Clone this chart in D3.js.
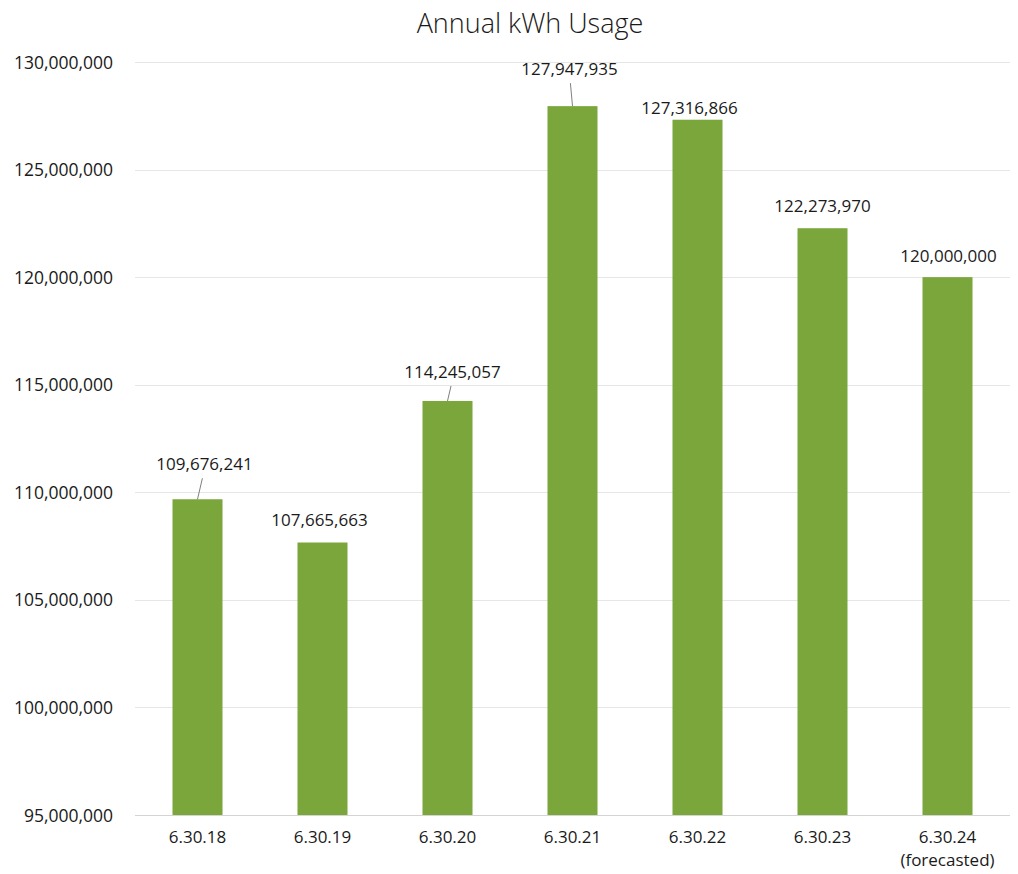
<!DOCTYPE html>
<html lang="en">
<head>
<meta charset="utf-8">
<script src="https://d3js.org/d3.v7.min.js"></script>
<style>
  body { margin: 0; background: #fff; }
  #chart text { font-family: "Open Sans", sans-serif; fill: #1a1a1a; }
</style>
</head>
<body>
<div id="chart"></div>
<script>
// data
var years = ["6.30.18", "6.30.19", "6.30.20", "6.30.21", "6.30.22", "6.30.23", "6.30.24"];
var yearNotes = ["", "", "", "", "", "", "(forecasted)"];
var usage = [109676241, 107665663, 114245057, 127947935, 127316866, 122273970, 120000000];
var yTicks = [95000000, 100000000, 105000000, 110000000, 115000000, 120000000, 125000000, 130000000];

// where each value label sits relative to its bar top (dx, dy of text centre), and whether it has a leader line
var labelShift = [[7, -35, true], [-3, -22, false], [5, -29, true], [-3, -37, true], [-8, -12, false], [0, -22, false], [1, -21, false]];

var width = 1018, height = 874;
var plotLeft = 135, plotRight = 1010, plotTop = 62, plotBottom = 815;

var svg = d3.select("#chart").append("svg")
    .attr("width", width)
    .attr("height", height);

var x = d3.scaleBand()
    .domain(years)
    .range([plotLeft, plotRight])
    .paddingInner(0.6)
    .paddingOuter(0.3);

var y = d3.scaleLinear()
    .domain([95000000, 130000000])
    .range([plotBottom, plotTop]);

var fmt = d3.format(",");

// title
svg.append("text")
    .attr("x", 530)
    .attr("y", 33)
    .attr("text-anchor", "middle")
    .style("font-size", "27px")
    .style("font-weight", 300)
    .text("Annual kWh Usage");

// gridlines
svg.selectAll(".grid")
    .data(yTicks)
    .enter().append("line")
    .attr("x1", plotLeft)
    .attr("x2", plotRight)
    .attr("y1", function(d) { return Math.round(y(d)) + 0.5; })
    .attr("y2", function(d) { return Math.round(y(d)) + 0.5; })
    .attr("stroke", function(d) { return d === 95000000 ? "#d4d4d4" : "#e6e6e6"; })
    .attr("stroke-width", 1);

// y axis labels
var yAxis = d3.axisLeft(y)
    .tickValues(yTicks)
    .tickFormat(fmt)
    .tickSize(0)
    .tickPadding(0);

svg.append("g")
    .attr("transform", "translate(113,0)")
    .call(yAxis)
    .call(function(g) {
        g.select(".domain").remove();
        g.selectAll("text").style("font-size", "17.5px").attr("dy", "0.35em");
    });

// bars
svg.selectAll(".bar")
    .data(usage)
    .enter().append("rect")
    .attr("class", "bar")
    .attr("x", function(d, i) { return x(years[i]); })
    .attr("y", function(d) { return y(d); })
    .attr("width", x.bandwidth())
    .attr("height", function(d) { return plotBottom - y(d); })
    .attr("fill", "#7aa63c");

// x axis labels
var xAxis = d3.axisBottom(x).tickSize(0).tickPadding(0);
svg.append("g")
    .attr("transform", "translate(0," + plotBottom + ")")
    .call(xAxis)
    .call(function(g) {
        g.select(".domain").remove();
        g.selectAll("text")
            .style("font-size", "17px")
            .attr("y", 16)
            .attr("dy", "0.71em");
    });

svg.selectAll(".note")
    .data(yearNotes)
    .enter().append("text")
    .attr("x", function(d, i) { return x(years[i]) + x.bandwidth() / 2; })
    .attr("y", 866)
    .attr("text-anchor", "middle")
    .style("font-size", "17px")
    .text(function(d) { return d; });

// value labels
var cx = function(i) { return x(years[i]) + x.bandwidth() / 2; };

svg.selectAll(".leader")
    .data(usage.filter(function(d, i) { return labelShift[i][2]; }))
    .enter().append("line")
    .attr("x1", function(d) { return cx(usage.indexOf(d)); })
    .attr("y1", function(d) { return y(d); })
    .attr("x2", function(d) { var i = usage.indexOf(d); return cx(i) + labelShift[i][0] * 0.7; })
    .attr("y2", function(d) { var i = usage.indexOf(d); return y(d) + labelShift[i][1] + 14; })
    .attr("stroke", "#7f7f7f")
    .attr("stroke-width", 1);

svg.selectAll(".vlabel")
    .data(usage)
    .enter().append("text")
    .attr("x", function(d, i) { return cx(i) + labelShift[i][0]; })
    .attr("y", function(d, i) { return y(d) + labelShift[i][1]; })
    .attr("dy", "0.35em")
    .attr("text-anchor", "middle")
    .style("font-size", "17px")
    .text(function(d) { return fmt(d); });
</script>
</body>
</html>
